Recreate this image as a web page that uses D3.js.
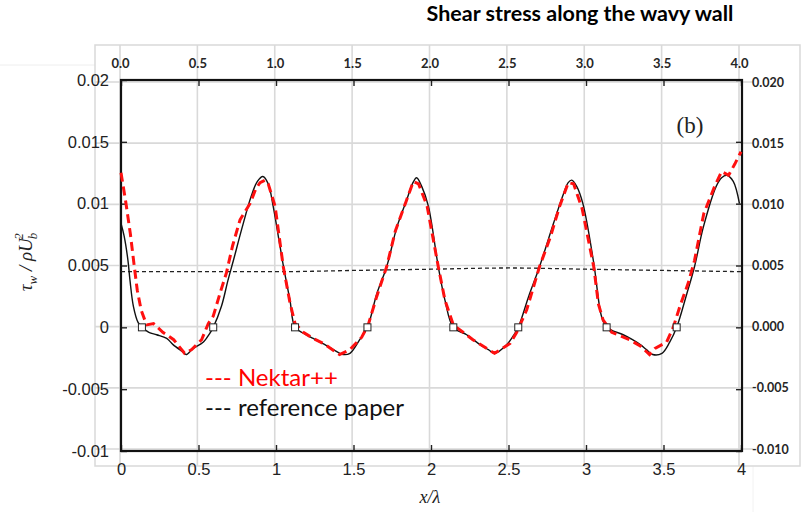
<!DOCTYPE html>
<html>
<head>
<meta charset="utf-8">
<script src="https://cdn.jsdelivr.net/npm/d3@7"></script>
<style>
  body { margin: 0; background: #fff; }
  svg { display: block; }
</style>
</head>
<body>
<div id="chart"></div>
<script>
// reference paper curve (x/lambda, tau_w / rho Ub^2)
var refX = [0, 0.02, 0.045, 0.058, 0.08, 0.11, 0.135, 0.18, 0.23, 0.295, 0.336, 0.40, 0.42, 0.466, 0.53, 0.572, 0.595, 0.648, 0.69, 0.725, 0.78, 0.84, 0.88, 0.915, 0.95, 0.98, 1.02, 1.05, 1.09, 1.123, 1.18, 1.24, 1.30, 1.37, 1.434, 1.477, 1.54, 1.59, 1.65, 1.714, 1.78, 1.843, 1.88, 1.907, 1.94, 1.983, 2.047, 2.09, 2.144, 2.23, 2.316, 2.37, 2.413, 2.488, 2.53, 2.563, 2.63, 2.70, 2.79, 2.855, 2.885, 2.908, 2.94, 2.98, 3.05, 3.10, 3.133, 3.24, 3.30, 3.35, 3.39, 3.43, 3.49, 3.54, 3.585, 3.65, 3.70, 3.757, 3.84, 3.875, 3.908, 3.95, 3.99];
var refY = [0.0084, 0.0074, 0.0054, 0.0038, 0.0017, 0.0004, 0, -0.0004, -0.0006, -0.0009, -0.0014, -0.0020, -0.0022, -0.0017, -0.0012, -0.0005, 0, 0.0017, 0.0038, 0.0054, 0.0080, 0.0106, 0.0118, 0.0122, 0.0116, 0.0099, 0.0070, 0.0048, 0.0022, 0, -0.0005, -0.0009, -0.0013, -0.0018, -0.0022, -0.0021, -0.0010, 0, 0.0027, 0.0049, 0.0081, 0.0103, 0.0116, 0.0121, 0.0114, 0.0098, 0.0049, 0.0022, 0, -0.0006, -0.0014, -0.0018, -0.0021, -0.0014, -0.0007, 0, 0.0025, 0.0049, 0.0084, 0.0108, 0.0117, 0.0119, 0.0114, 0.0100, 0.0052, 0.0009, 0, -0.0006, -0.0010, -0.0014, -0.0018, -0.0022, -0.0021, -0.0012, 0, 0.0027, 0.0049, 0.0081, 0.0114, 0.0121, 0.0123, 0.0118, 0.0100];

// Nektar++ result
var nekX = [0, 0.03, 0.06, 0.085, 0.105, 0.13, 0.165, 0.21, 0.27, 0.34, 0.41, 0.456, 0.52, 0.563, 0.595, 0.64, 0.68, 0.72, 0.768, 0.832, 0.87, 0.897, 0.93, 0.95, 0.994, 1.047, 1.09, 1.123, 1.176, 1.24, 1.305, 1.41, 1.477, 1.553, 1.595, 1.65, 1.714, 1.77, 1.84, 1.886, 1.92, 1.975, 2.047, 2.09, 2.144, 2.27, 2.41, 2.51, 2.553, 2.617, 2.70, 2.77, 2.83, 2.886, 2.92, 2.975, 3.05, 3.08, 3.11, 3.166, 3.28, 3.35, 3.41, 3.445, 3.52, 3.563, 3.606, 3.66, 3.70, 3.76, 3.83, 3.875, 3.92, 3.96, 4.0];
var nekY = [0.0125, 0.0102, 0.0076, 0.0050, 0.0030, 0.0014, 0.0002, 0.0003, -0.0004, -0.0010, -0.0021, -0.0018, -0.0010, 0.0003, 0.0009, 0.0028, 0.0044, 0.0066, 0.0087, 0.0100, 0.0112, 0.0117, 0.0119, 0.0116, 0.0098, 0.0049, 0.0020, 0.0003, -0.0004, -0.0009, -0.0013, -0.0022, -0.0018, -0.0008, 0.0002, 0.0025, 0.0049, 0.0078, 0.0102, 0.0118, 0.0116, 0.0098, 0.0049, 0.0022, 0.0002, -0.0010, -0.0021, -0.0013, -0.0004, 0.0014, 0.0049, 0.0073, 0.0098, 0.0117, 0.0116, 0.0096, 0.0049, 0.0019, 0.0006, -0.0004, -0.0010, -0.0015, -0.0022, -0.0017, -0.0012, 0, 0.0017, 0.0036, 0.0054, 0.0092, 0.0114, 0.0126, 0.0123, 0.0132, 0.0142];

// mean line from reference paper (dashed)
var meanX = [0, 0.5, 1, 1.5, 2, 2.5, 3, 3.5, 4];
var meanY = [0.0045, 0.0045, 0.0045, 0.0046, 0.0047, 0.0048, 0.0047, 0.0046, 0.0045];

// separation / reattachment markers
var squareX = [0.135, 0.595, 1.123, 1.59, 2.144, 2.563, 3.133, 3.585];

var xTicks = [0, 0.5, 1, 1.5, 2, 2.5, 3, 3.5, 4];
var yTicks = [0.02, 0.015, 0.01, 0.005, 0, -0.005, -0.01];
var xTickLabels = ["0", "0.5", "1", "1.5", "2", "2.5", "3", "3.5", "4"];
var yTickLabels = ["0.02", "0.015", "0.01", "0.005", "0", "-0.005", "-0.01"];
var topLabels = ["0.0", "0.5", "1.0", "1.5", "2.0", "2.5", "3.0", "3.5", "4.0"];
var rightLabels = ["0.020", "0.015", "0.010", "0.005", "0.000", "-0.005", "-0.010"];

var width = 804, height = 512;

var svg = d3.select("#chart").append("svg")
   .attr("width", width)
   .attr("height", height);

// outer (spreadsheet) scales
var xOut = d3.scaleLinear().domain([0, 4]).range([120, 739]);
var yOut = d3.scaleLinear().domain([-0.01, 0.02]).range([449, 82]);

// inner (figure) scales
var x = d3.scaleLinear().domain([0, 4]).range([121, 741]);
var y = d3.scaleLinear().domain([-0.01, 0.02]).range([451, 80]);

// title
svg.append("text")
   .attr("x", 580)
   .attr("y", 21)
   .attr("text-anchor", "middle")
   .style("font-family", "Lato, 'Open Sans', sans-serif")
   .style("font-weight", "700")
   .style("font-size", "21.5px")
   .text("Shear stress along the wavy wall");

// faint image border artifacts
svg.append("line").attr("x1", 0).attr("x2", 95).attr("y1", 65).attr("y2", 65)
   .style("stroke", "#eeeeee");
svg.append("line").attr("x1", 753).attr("x2", 753).attr("y1", 466).attr("y2", 512)
   .style("stroke", "#f2f2f2");

// outer plot area border
svg.append("rect")
   .attr("x", 95).attr("y", 45)
   .attr("width", 705).attr("height", 421)
   .attr("fill", "none")
   .style("stroke", "#d9d9d9")
   .style("stroke-width", 1.5);

// grid lines
svg.append("g").selectAll("line")
   .data(xTicks).enter().append("line")
   .attr("x1", function (d) { return xOut(d); })
   .attr("x2", function (d) { return xOut(d); })
   .attr("y1", 45).attr("y2", 466)
   .style("stroke", "#d9d9d9").style("stroke-width", 1.6);

svg.append("g").selectAll("line")
   .data(yTicks).enter().append("line")
   .attr("x1", 95).attr("x2", 753)
   .attr("y1", function (d) { return yOut(d); })
   .attr("y2", function (d) { return yOut(d); })
   .style("stroke", "#d9d9d9").style("stroke-width", 1.6);

// outer top axis
var topAxis = d3.axisTop(xOut).tickValues(xTicks).tickSize(0).tickPadding(0)
   .tickFormat(function (d, i) { return topLabels[i]; });
var gTop = svg.append("g")
   .attr("transform", "translate(0,68)")
   .call(topAxis);
gTop.select(".domain").remove();
gTop.selectAll("text")
   .style("font-family", "Lato, sans-serif")
   .style("font-weight", "700")
   .style("font-size", "13px")
   .style("fill", "#262626");

// outer right axis
var rightAxis = d3.axisRight(yOut).tickValues(yTicks).tickSize(0).tickPadding(0)
   .tickFormat(function (d, i) { return rightLabels[i]; });
var gRight = svg.append("g")
   .attr("transform", "translate(752,0)")
   .call(rightAxis);
gRight.select(".domain").remove();
gRight.selectAll("text")
   .style("font-family", "Lato, sans-serif")
   .style("font-weight", "700")
   .style("font-size", "12.5px")
   .style("fill", "#262626");

// inner figure axes
var innerFont = "'Liberation Sans', Arial, sans-serif";

var gB = svg.append("g")
   .attr("transform", "translate(0,451)")
   .call(d3.axisBottom(x).tickValues(xTicks).tickSize(-6).tickPadding(12)
      .tickFormat(function (d, i) { return xTickLabels[i]; }));
var gT = svg.append("g")
   .attr("transform", "translate(0,80)")
   .call(d3.axisTop(x).tickValues(xTicks).tickSize(-6).tickFormat(""));
var gL = svg.append("g")
   .attr("transform", "translate(121,0)")
   .call(d3.axisLeft(y).tickValues(yTicks).tickSize(-6).tickPadding(12)
      .tickFormat(function (d, i) { return yTickLabels[i]; }));
var gR = svg.append("g")
   .attr("transform", "translate(742,0)")
   .call(d3.axisRight(y).tickValues(yTicks).tickSize(-6).tickFormat(""));

[gB, gT, gL, gR].forEach(function (g) {
   g.select(".domain").remove();
   g.selectAll("line").style("stroke", "#222").style("stroke-width", 1.4);
   g.selectAll("text")
      .style("font-family", innerFont)
      .style("font-size", "16.5px")
      .style("fill", "#222");
});

// inner frame
svg.append("rect")
   .attr("x", x(0)).attr("y", y(0.02))
   .attr("width", 742 - x(0)).attr("height", y(-0.01) - y(0.02))
   .attr("fill", "none")
   .style("stroke", "#111")
   .style("stroke-width", 2.2);

// mean dashed line
var meanLine = d3.line()
   .x(function (d, i) { return x(meanX[i]); })
   .y(function (d) { return y(d); })
   .curve(d3.curveMonotoneX);
svg.append("path")
   .datum(meanY)
   .attr("d", meanLine)
   .attr("fill", "none")
   .style("stroke", "#222")
   .style("stroke-width", 1.3)
   .style("stroke-dasharray", "4,3");

// reference curve
var refLine = d3.line()
   .x(function (d, i) { return x(refX[i]); })
   .y(function (d) { return y(d); })
   .curve(d3.curveCatmullRom.alpha(0.5));
svg.append("path")
   .datum(refY)
   .attr("d", refLine)
   .attr("fill", "none")
   .style("stroke", "#111")
   .style("stroke-width", 1.4);

// Nektar++ curve
var nekLine = d3.line()
   .x(function (d, i) { return x(nekX[i]); })
   .y(function (d) { return y(d); });
svg.append("path")
   .datum(nekY)
   .attr("d", nekLine)
   .attr("fill", "none")
   .style("stroke", "#ff1010")
   .style("stroke-width", 3)
   .style("stroke-dasharray", "9,5");

// squares at zero crossings
svg.append("g").selectAll("rect")
   .data(squareX).enter().append("rect")
   .attr("x", function (d) { return x(d) - 3.5; })
   .attr("y", y(0) - 3.5)
   .attr("width", 7).attr("height", 7)
   .attr("fill", "#fff")
   .style("stroke", "#222")
   .style("stroke-width", 1);

// (b) label
svg.append("text")
   .attr("x", 690).attr("y", 133)
   .attr("text-anchor", "middle")
   .style("font-family", "'Liberation Serif', 'DejaVu Serif', serif")
   .style("font-size", "23px")
   .style("fill", "#222")
   .text("(b)");

// legend
var legend = svg.append("g")
   .style("font-family", "Lato, 'Open Sans', sans-serif")
   .style("font-size", "24px");
legend.append("text")
   .attr("x", 205).attr("y", 386)
   .style("fill", "#ff0000")
   .text("--- Nektar++");
legend.append("text")
   .attr("x", 205).attr("y", 416)
   .style("fill", "#111")
   .text("--- reference paper");

// axis titles
svg.append("text")
   .attr("x", 430).attr("y", 503)
   .attr("text-anchor", "middle")
   .style("font-family", "'Liberation Serif', 'DejaVu Serif', serif")
   .style("font-style", "italic")
   .style("font-size", "18px")
   .style("fill", "#222")
   .text("x/λ");

var yLab = svg.append("text")
   .attr("transform", "translate(32,262) rotate(-90)")
   .attr("text-anchor", "middle")
   .style("font-family", "'Liberation Serif', 'DejaVu Serif', serif")
   .style("font-style", "italic")
   .style("font-size", "19px")
   .style("fill", "#222");
yLab.append("tspan").text("τ");
yLab.append("tspan").attr("dy", 5).style("font-size", "13px").text("w");
yLab.append("tspan").attr("dy", -5).text(" / ρU");
yLab.append("tspan").attr("dy", 5).attr("dx", -1).style("font-size", "13px").text("b");
yLab.append("tspan").attr("dy", -14).attr("dx", -7).style("font-size", "13px").text("2");
</script>
</body>
</html>
